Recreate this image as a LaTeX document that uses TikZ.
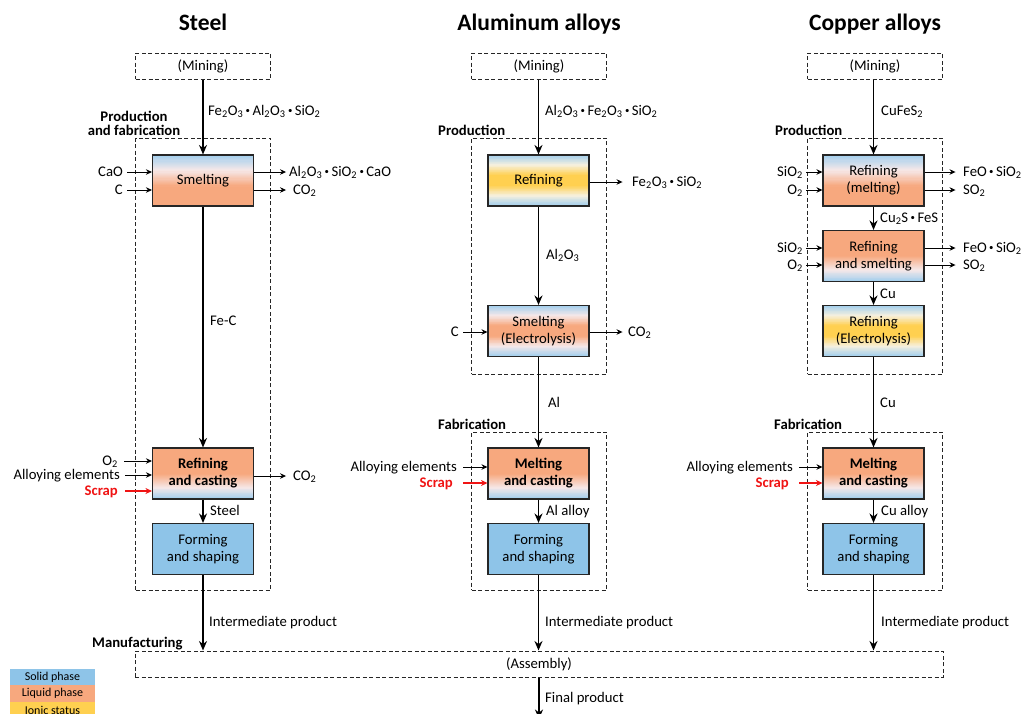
\documentclass[tikz,border=0pt]{standalone}
\usepackage{fontspec}
\usepackage{graphicx}
\setmainfont{Carlito}
\usetikzlibrary{arrows.meta,calc}
\definecolor{solid}{RGB}{142,196,232}
\definecolor{solidlt}{RGB}{160,206,238}
\definecolor{liquid}{RGB}{247,168,126}
\definecolor{ionic}{RGB}{255,208,80}
\definecolor{paleL}{RGB}{246,232,232}
\definecolor{paleI}{RGB}{246,240,222}
\definecolor{scrapred}{RGB}{240,20,20}
\newcommand\lbl{\fontsize{14.7}{17}\selectfont}
\newcommand\sub[1]{\textsubscript{#1}}
\newcommand\md{\,\raisebox{0.35ex}{\scalebox{0.6}{\textbullet}}\,}
% one gradient band inside a node, drawn as thin strips: from fraction #1 to #2 (top to bottom), colours #3 (top) to #4 (bottom)
\newcommand\gband[4]{%
  \foreach \gi in {0,...,13}{%
    \pgfmathsetmacro\gya{#1+(#2-#1)*\gi/14}%
    \pgfmathsetmacro\gyb{min(1,#1+(#2-#1)*(\gi+1)/14+0.012)}%
    \pgfmathsetmacro\gp{100*(1-(\gi+0.5)/14)}%
    \fill[#3!\gp!#4]
      ($(path picture bounding box.north west)!\gya!(path picture bounding box.south west)$) rectangle
      ($(path picture bounding box.north east)!\gyb!(path picture bounding box.south east)$);
  }}
\tikzset{
  proc/.style={draw=black!85, line width=1.1pt, minimum width=101pt, minimum height=51pt, inner sep=0pt, align=center, font=\lbl},
  gSL/.style={proc, path picture={\gband{0}{0.3}{solidlt}{paleL}\gband{0.3}{0.62}{paleL}{liquid}\gband{0.62}{1}{liquid}{liquid}}},
  gLS/.style={proc, path picture={\gband{0}{0.5}{liquid}{liquid}\gband{0.5}{0.78}{liquid}{paleL}\gband{0.78}{1}{paleL}{solidlt}}},
  gBYB/.style={proc, path picture={\gband{0}{0.2}{solidlt}{paleI}\gband{0.2}{0.4}{paleI}{ionic}\gband{0.4}{0.6}{ionic}{ionic}\gband{0.6}{0.8}{ionic}{paleI}\gband{0.8}{1}{paleI}{solidlt}}},
  gBOB/.style={proc, path picture={\gband{0}{0.2}{solidlt}{paleL}\gband{0.2}{0.4}{paleL}{liquid}\gband{0.4}{0.6}{liquid}{liquid}\gband{0.6}{0.8}{liquid}{paleL}\gband{0.8}{1}{paleL}{solidlt}}},
  dbox/.style={draw=black!85, dash pattern=on 4pt off 2.5pt, line width=1pt, inner sep=0pt, font=\lbl},
  flow/.style={line width=1.6pt, -{Stealth[length=9.5pt,width=8pt]}},
  side/.style={line width=1pt, -{Stealth[length=6pt,width=5.5pt]}},
  redside/.style={line width=1.6pt, scrapred, -{Stealth[length=6.5pt,width=6pt]}},
  lab/.style={font=\lbl, inner sep=0pt, text height=9.4pt, text depth=0pt},
  hdr/.style={font=\lbl\bfseries, inner sep=0pt, text height=9.4pt, text depth=0pt},
  ttl/.style={font=\fontsize{23.5}{26}\selectfont\bfseries, inner sep=0pt},
  legend/.style={minimum width=85pt, minimum height=16.5pt, inner sep=0pt, font=\fontsize{12}{13}\selectfont}
}
\begin{document}
\begin{tikzpicture}[x=1pt,y=-1pt]
\useasboundingbox[fill=white] (0,0) rectangle (1033,713);

% titles
\node[ttl, anchor=base] (tst) at (203,30) {Steel};
\node[ttl, anchor=base] (tal) at (539,30) {Aluminum alloys};
\node[ttl, anchor=base] (tcu) at (875,30) {Copper alloys};

% dashed frames
\node[dbox, minimum width=135pt, minimum height=26pt] (stmin) at (203,66) {(Mining)};
\node[dbox, minimum width=135pt, minimum height=26pt] (almin) at (539,66) {(Mining)};
\node[dbox, minimum width=135pt, minimum height=26pt] (cumin) at (875,66) {(Mining)};
\node[dbox, minimum width=135pt, minimum height=452pt] (stpf) at (203,364) {};
\node[dbox, minimum width=135pt, minimum height=236pt] (alprod) at (539,256) {};
\node[dbox, minimum width=135pt, minimum height=158pt] (alfab) at (539,511) {};
\node[dbox, minimum width=135pt, minimum height=236pt] (cuprod) at (875,256) {};
\node[dbox, minimum width=135pt, minimum height=158pt] (cufab) at (875,511) {};
\node[dbox, minimum width=808pt, minimum height=26pt] (asm) at (539,664) {(Assembly)};

% section headers
\node[hdr] (hstpf1) at (134,117) {Production};
\node[hdr] (hstpf2) at (134,130.5) {and fabrication};
\node[hdr, anchor=west] (halprod) at (438,131) {Production};
\node[hdr, anchor=west] (hcuprod) at (775,131) {Production};
\node[hdr, anchor=west] (halfab) at (438,425) {Fabrication};
\node[hdr, anchor=west] (hcufab) at (774,425) {Fabrication};
\node[hdr, anchor=west] (hman) at (92,643) {Manufacturing};

% process boxes - steel
\node[gSL] (stsm) at (203,180.5) {Smelting};
\node[gLS, font=\lbl\bfseries] (strc) at (203,473.5) {Refining\\and casting};
\node[proc, fill=solid] (stfs) at (203,549) {Forming\\and shaping};
% aluminum
\node[gBYB] (alref) at (538.5,180.5) {Refining};
\node[gBOB] (alsm) at (538.5,331) {Smelting\\(Electrolysis)};
\node[gLS, font=\lbl\bfseries] (almc) at (538.5,473.5) {Melting\\and casting};
\node[proc, fill=solid] (alfs) at (538.5,549) {Forming\\and shaping};
% copper
\node[gSL] (curm) at (873.5,180.5) {Refining\\(melting)};
\node[gLS] (curs) at (873.5,256) {Refining\\and smelting};
\node[gBYB] (cure) at (873.5,331) {Refining\\(Electrolysis)};
\node[gLS, font=\lbl\bfseries] (cumc) at (873.5,473.5) {Melting\\and casting};
\node[proc, fill=solid] (cufs) at (873.5,549) {Forming\\and shaping};

% ---- steel flows
\draw[flow] (stmin.south) -- (stsm.north);
\draw[flow] (stsm.south) -- (strc.north);
\draw[flow] (strc.south) -- (stfs.north);
\draw[flow] (stfs.south) -- (stfs.south |- asm.north);
\node[lab, anchor=west] (lst1) at (208,111) {Fe\sub2O\sub3\md Al\sub2O\sub3\md SiO\sub2};
\node[lab, anchor=west] (lst2) at (210,321) {Fe-C};
\node[lab, anchor=west] (lst3) at (210,511) {Steel};
\node[lab, anchor=west] (lst4) at (209,622) {Intermediate product};
\node[lab, anchor=east] (stcao) at (123,172) {CaO};
\node[lab, anchor=east] (stc) at (123,190) {C};
\draw[side] ([xshift=4pt]stcao.east) -- (stcao.east -| stsm.west);
\draw[side] ([xshift=4pt]stc.east) -- (stc.east -| stsm.west);
\node[lab, anchor=west] (stslag) at (289,172) {Al\sub2O\sub3\md SiO\sub2\md CaO};
\node[lab, anchor=west] (stco2a) at (293,190) {CO\sub2};
\draw[side] (stsm.east |- stslag.west) -- ++(32,0);
\draw[side] (stsm.east |- stco2a.west) -- ++(32,0);
\node[lab, anchor=east] (sto2) at (118,461) {O\sub2};
\node[lab, anchor=east] (stall) at (120,475) {Alloying elements};
\node[lab, anchor=east, text=scrapred, font=\lbl\bfseries] (stscr) at (118,491) {Scrap};
\draw[side] ([xshift=6pt]sto2.east) -- (sto2.east -| strc.west);
\draw[side] ([xshift=5pt]stall.east) -- (stall.east -| strc.west);
\draw[redside] ([xshift=7pt]stscr.east) -- (stscr.east -| strc.west);
\node[lab, anchor=west] (stco2b) at (293,476) {CO\sub2};
\draw[side] (strc.east |- stco2b.west) -- ++(32,0);

% ---- aluminum flows
\draw[flow] (almin.south -| alref.north) -- (alref.north);
\draw[flow] (alref.south) -- (alsm.north);
\draw[flow] (alsm.south) -- (almc.north);
\draw[flow] (almc.south) -- (alfs.north);
\draw[flow] (alfs.south) -- (alfs.south |- asm.north);
\node[lab, anchor=west] (lal1) at (545,111) {Al\sub2O\sub3\md Fe\sub2O\sub3\md SiO\sub2};
\node[lab, anchor=west] (lal2) at (546,255) {Al\sub2O\sub3};
\node[lab, anchor=west] (lal3) at (548,403) {Al};
\node[lab, anchor=west] (lal4) at (546,511) {Al alloy};
\node[lab, anchor=west] (lal5) at (545,622) {Intermediate product};
\node[lab, anchor=west] (alslag) at (632,182) {Fe\sub2O\sub3\md SiO\sub2};
\draw[side] (alref.east |- alslag.west) -- ++(33,0);
\node[lab, anchor=east] (alc) at (459,332) {C};
\draw[side] ([xshift=4pt]alc.east) -- (alc.east -| alsm.west);
\node[lab, anchor=west] (alco2) at (628,332) {CO\sub2};
\draw[side] (alsm.east |- alco2.west) -- ++(33,0);
\node[lab, anchor=east] (alall) at (457,467) {Alloying elements};
\node[lab, anchor=east, text=scrapred, font=\lbl\bfseries] (alscr) at (453,483) {Scrap};
\draw[side] ([xshift=6pt]alall.east) -- (alall.east -| almc.west);
\draw[redside] ([xshift=10pt]alscr.east) -- (alscr.east -| almc.west);

% ---- copper flows
\draw[flow] (cumin.south -| curm.north) -- (curm.north);
\draw[flow] (curm.south) -- (curs.north);
\draw[flow] (curs.south) -- (cure.north);
\draw[flow] (cure.south) -- (cumc.north);
\draw[flow] (cumc.south) -- (cufs.north);
\draw[flow] (cufs.south) -- (cufs.south |- asm.north);
\node[lab, anchor=west] (lcu1) at (881,111) {CuFeS\sub2};
\node[lab, anchor=west] (lcu2) at (880,218) {Cu\sub2S\md FeS};
\node[lab, anchor=west] (lcu3) at (880,294) {Cu};
\node[lab, anchor=west] (lcu4) at (880,403) {Cu};
\node[lab, anchor=west] (lcu5) at (881,511) {Cu alloy};
\node[lab, anchor=west] (lcu6) at (881,622) {Intermediate product};
\node[lab, anchor=east] (cusi1) at (803,172) {SiO\sub2};
\node[lab, anchor=east] (cuo1) at (803,190) {O\sub2};
\node[lab, anchor=east] (cusi2) at (803,248) {SiO\sub2};
\node[lab, anchor=east] (cuo2) at (803,265) {O\sub2};
\draw[side] ([xshift=3pt]cusi1.east) -- (cusi1.east -| curm.west);
\draw[side] ([xshift=3pt]cuo1.east) -- (cuo1.east -| curm.west);
\draw[side] ([xshift=3pt]cusi2.east) -- (cusi2.east -| curs.west);
\draw[side] ([xshift=3pt]cuo2.east) -- (cuo2.east -| curs.west);
\node[lab, anchor=west] (cufe1) at (963,172) {FeO\md SiO\sub2};
\node[lab, anchor=west] (cuso1) at (963,190) {SO\sub2};
\node[lab, anchor=west] (cufe2) at (963,248) {FeO\md SiO\sub2};
\node[lab, anchor=west] (cuso2) at (963,265) {SO\sub2};
\draw[side] (curm.east |- cufe1.west) -- ++(31,0);
\draw[side] (curm.east |- cuso1.west) -- ++(31,0);
\draw[side] (curs.east |- cufe2.west) -- ++(31,0);
\draw[side] (curs.east |- cuso2.west) -- ++(31,0);
\node[lab, anchor=east] (cuall) at (793,467) {Alloying elements};
\node[lab, anchor=east, text=scrapred, font=\lbl\bfseries] (cuscr) at (789,483) {Scrap};
\draw[side] ([xshift=6pt]cuall.east) -- (cuall.east -| cumc.west);
\draw[redside] ([xshift=10pt]cuscr.east) -- (cuscr.east -| cumc.west);

% ---- final product
\coordinate (fpend) at (539,719);
\draw[flow] (asm.south) -- (fpend);
\node[lab, anchor=west] (lfp) at (545,698) {Final product};

% ---- legend
\node[legend, fill=solid] (legs) at (52.5,677) {Solid phase};
\node[legend, fill=liquid] (legl) at (52.5,693.5) {Liquid phase};
\node[legend, fill=ionic] (legi) at (52.5,710) {Ionic status};
\end{tikzpicture}
\end{document}
